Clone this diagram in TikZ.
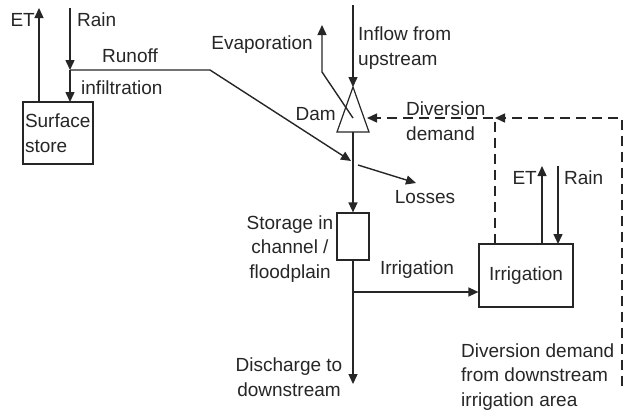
\documentclass[tikz,border=0pt]{standalone}
\usepackage{fontspec}
\setmainfont{Liberation Sans}
\usetikzlibrary{arrows.meta}
\begin{document}
\begin{tikzpicture}[x=1bp,y=-1bp,
  every node/.style={font=\fontsize{19bp}{24.5bp}\selectfont, inner sep=0pt, text=black!85},
  flow/.style={line width=1.4bp, draw=black!85, -{Triangle[length=10bp,width=9bp]}},
  plain/.style={line width=1.4bp, draw=black!85},
  dflow/.style={line width=1.4bp, draw=black!85, dash pattern=on 10bp off 6bp, -{Triangle[length=10bp,width=9bp]}},
  dplain/.style={line width=1.4bp, draw=black!85, dash pattern=on 10bp off 6bp},
  box/.style={draw=black!85, line width=1.2bp, rectangle}]
\useasboundingbox (0,0) rectangle (624,414);

% boxes
\node[box, minimum width=70bp, minimum height=62bp, align=left, text width=66bp, inner sep=2bp] (surf) at (58,133) {Surface\\store};
\node[box, minimum width=32bp, minimum height=47bp] (stor) at (353,236.5) {};
\node[box, minimum width=94bp, minimum height=63bp] (irr) at (526,275.5) {Irrigation};

% dam triangle
\coordinate (apex) at (353,87);
\coordinate (bl) at (337,132);
\coordinate (br) at (369,132);
\coordinate (dbase) at (353,132);
\draw[box] (apex) -- (bl) -- (br) -- cycle;

% coordinates
\coordinate (etS) at (39,102);
\coordinate (etE) at (39,8);
\coordinate (rainS) at (70,8);
\coordinate (junc) at (70,70);
\coordinate (infE) at (70,102);
\coordinate (roB) at (210,70);
\coordinate (roE) at (351,161);
\coordinate (inS) at (353,5);
\coordinate (evS) at (353,118);
\coordinate (evB) at (322,72);
\coordinate (evE) at (322,25);
\coordinate (loS) at (358,165);
\coordinate (loE) at (416,183);
\coordinate (disE) at (353,384);
\coordinate (brj) at (353,292);
\coordinate (ietS) at (542,244);
\coordinate (ietE) at (542,166);
\coordinate (irS) at (558,166);
\coordinate (irE) at (558,244);
\coordinate (ddS) at (622,386);
\coordinate (ddC) at (622,118);
\coordinate (ddE) at (495,118);
\coordinate (idS) at (495,244);
\coordinate (damR) at (367,118);

% connectors
\draw[flow] (etS) -- (etE);
\draw[flow] (rainS) -- (junc);
\draw[flow] (junc) -- (infE);
\draw[flow] (junc) -- (roB) -- (roE);
\draw[flow] (inS) -- (apex);
\draw[flow] (evS) -- (evB) -- (evE);
\draw[flow] (dbase) -- (stor.north);
\draw[flow] (loS) -- (loE);
\draw[flow] (stor.south) -- (disE);
\draw[flow] (brj) -- (brj -| irr.west);
\draw[flow] (ietS) -- (ietE);
\draw[flow] (irS) -- (irE);
\draw[dflow] (ddS) -- (ddC) -- (ddE);
\draw[dflow] (idS) -- (ddE) -- (damR);

% labels
\node[anchor=east] (lET) at (35,20) {ET};
\node[anchor=west] (lRain) at (77,20) {Rain};
\node (lRunoff) at (130,56) {Runoff};
\node[anchor=west] (lInf) at (81,88) {infiltration};
\node[anchor=east] (lEvap) at (313,45) {Evaporation};
\node[anchor=west, align=left] (lInflow) at (358,48) {Inflow from\\upstream};
\node[anchor=east] (lDam) at (336,114) {Dam};
\node[anchor=west, align=left] (lDiv) at (406,121) {Diversion\\demand};
\node (lLoss) at (425,197) {Losses};
\node[align=center] (lStor) at (290,249) {Storage in\\channel /\\floodplain};
\node (lIrr) at (417,270) {Irrigation};
\node[align=center] (lDis) at (289,377) {Discharge to\\downstream};
\node[anchor=east] (lIET) at (537,178) {ET};
\node[anchor=west] (lIRain) at (564,178) {Rain};
\node[anchor=west, align=left] (lDD) at (461,377) {Diversion demand\\from downstream\\irrigation area};
\end{tikzpicture}
\end{document}
